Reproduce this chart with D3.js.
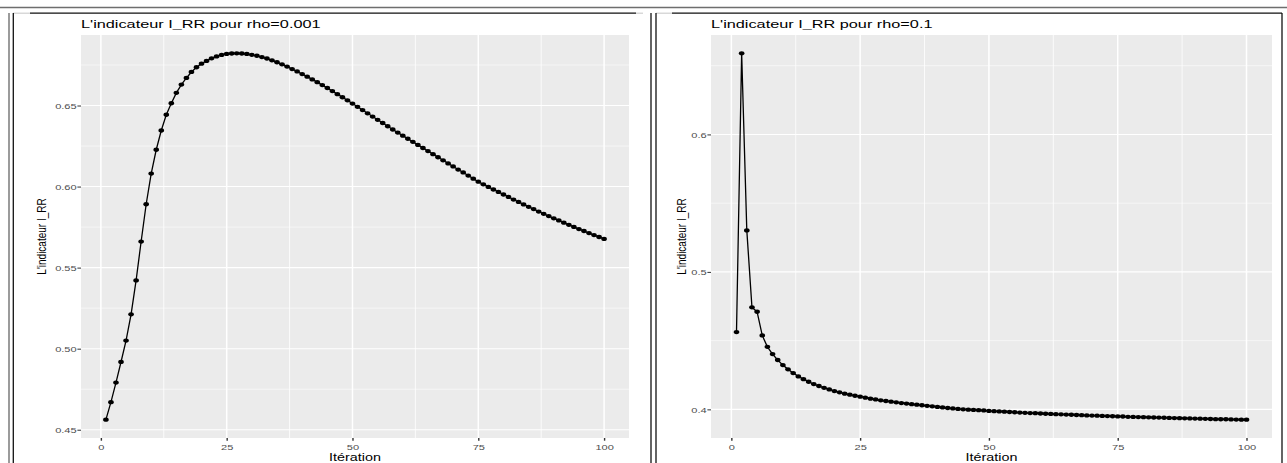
<!DOCTYPE html>
<html>
<head>
<meta charset="utf-8">
<script src="https://cdn.jsdelivr.net/npm/d3@7"></script>
<style>
  body { margin: 0; background: #fff; }
  svg { display: block; font-family: "Liberation Sans", Arial, Helvetica, sans-serif; }
</style>
</head>
<body>
<svg id="chart" width="1287" height="463"></svg>
<script>
// ---- data -------------------------------------------------------------
// I_RR indicator per iteration, rho = 0.001
const irrRho0001 = [
  0.4562, 0.4670, 0.4791, 0.4918, 0.5050, 0.5212, 0.5421, 0.5661, 0.5891, 0.6080,
  0.6227, 0.6346, 0.6443, 0.6514, 0.6578, 0.6629, 0.6670, 0.6707, 0.6736, 0.6758,
  0.6775, 0.6791, 0.6803, 0.6812, 0.6818, 0.6821, 0.6822, 0.6821, 0.6818, 0.6813,
  0.6807, 0.6799, 0.6790, 0.6779, 0.6767, 0.6754, 0.6740, 0.6725, 0.6710, 0.6694,
  0.6678, 0.6661, 0.6644, 0.6626, 0.6608, 0.6589, 0.6570, 0.6551, 0.6532, 0.6512,
  0.6492, 0.6472, 0.6452, 0.6432, 0.6412, 0.6392, 0.6372, 0.6352, 0.6333, 0.6314,
  0.6295, 0.6276, 0.6257, 0.6238, 0.6219, 0.6200, 0.6181, 0.6162, 0.6143, 0.6124,
  0.6105, 0.6087, 0.6068, 0.6049, 0.6030, 0.6014, 0.5998, 0.5982, 0.5967, 0.5951,
  0.5936, 0.5920, 0.5905, 0.5890, 0.5875, 0.5861, 0.5846, 0.5832, 0.5818, 0.5804,
  0.5791, 0.5777, 0.5764, 0.5751, 0.5738, 0.5726, 0.5713, 0.5701, 0.5689, 0.5677
];

// I_RR indicator per iteration, rho = 0.1
const irrRho01 = [
  0.4562, 0.6590, 0.5302, 0.4742, 0.4710, 0.4538, 0.4455, 0.4402, 0.4359, 0.4322,
  0.4291, 0.4264, 0.4240, 0.4220, 0.4201, 0.4184, 0.4170, 0.4157, 0.4145, 0.4133,
  0.4124, 0.4114, 0.4107, 0.4099, 0.4092, 0.4085, 0.4078, 0.4072, 0.4066, 0.4061,
  0.4056, 0.4051, 0.4046, 0.4042, 0.4038, 0.4034, 0.4030, 0.4026, 0.4022, 0.4018,
  0.4014, 0.4010, 0.4007, 0.4003, 0.4000, 0.3998, 0.3996, 0.3994, 0.3992, 0.3989,
  0.3987, 0.3985, 0.3983, 0.3981, 0.3979, 0.3977, 0.3975, 0.3973, 0.3972, 0.3970,
  0.3968, 0.3967, 0.3965, 0.3964, 0.3962, 0.3961, 0.3959, 0.3958, 0.3956, 0.3955,
  0.3954, 0.3952, 0.3951, 0.3950, 0.3949, 0.3948, 0.3946, 0.3945, 0.3944, 0.3943,
  0.3942, 0.3941, 0.3940, 0.3939, 0.3938, 0.3937, 0.3936, 0.3935, 0.3934, 0.3933,
  0.3932, 0.3931, 0.3930, 0.3929, 0.3928, 0.3928, 0.3927, 0.3926, 0.3925, 0.3925
];

const xTicks = [0, 25, 50, 75, 100];
const yTicksRho0001 = [0.45, 0.50, 0.55, 0.60, 0.65];
const yTicksRho01 = [0.4, 0.5, 0.6];
const titles = ["L'indicateur I_RR pour rho=0.001", "L'indicateur I_RR pour rho=0.1"];
const xTitle = "Itération";
const yTitle = "L'indicateur I_RR";

// ---- drawing ----------------------------------------------------------
const svg = d3.select("#chart");
const SX = 1.38;            // horizontal stretch of the printed text
const PANEL_BG = "#EBEBEB";

// frame lines around the two figures
const frame = svg.append("g").attr("fill", "none");
frame.append("line").attr("x1", 0).attr("x2", 1287).attr("y1", 7.5).attr("y2", 7.5)
  .attr("stroke", "#6e6e6e").attr("stroke-width", 1.6);
frame.append("line").attr("x1", 9).attr("x2", 9).attr("y1", 13).attr("y2", 463)
  .attr("stroke", "#7a7a7a").attr("stroke-width", 1.5);
[[13, 30, "#cfcfcf"], [30, 636, "#111"], [636, 643, "#cfcfcf"], [656, 672, "#cfcfcf"], [672, 1282, "#111"]]
  .forEach(([a, b, c]) => frame.append("line").attr("x1", a).attr("x2", b)
    .attr("y1", 13.2).attr("y2", 13.2).attr("stroke", c).attr("stroke-width", 1.2));
[13.3, 651, 656, 1282].forEach(xv => frame.append("line")
  .attr("x1", xv).attr("x2", xv).attr("y1", 13).attr("y2", 463)
  .attr("stroke", "#111").attr("stroke-width", 1.3));

function stretchText(sel, sx) {
  sel.each(function () {
    const t = d3.select(this);
    const xv = +t.attr("x") || 0;
    t.attr("x", 0).attr("transform", `translate(${xv},0) scale(${sx},1)`);
  });
}

function midpoints(arr) {
  const out = [];
  for (let i = 0; i < arr.length - 1; i++) out.push((arr[i] + arr[i + 1]) / 2);
  if (arr.length > 1) {
    const step = arr[1] - arr[0];
    out.unshift(arr[0] - step / 2);
    out.push(arr[arr.length - 1] + step / 2);
  }
  return out;
}

function drawPanel(opt) {
  const { values, yTicks, yFormat, title, left, right, top, bottom, yTitleX } = opt;
  const iters = values.map((_, i) => i + 1);

  // ggplot-style 5% expansion of the data range
  const xExt = d3.extent(iters), yExt = d3.extent(values);
  const xPad = (xExt[1] - xExt[0]) * 0.05, yPad = (yExt[1] - yExt[0]) * 0.05;
  const x = d3.scaleLinear().domain([xExt[0] - xPad, xExt[1] + xPad]).range([left, right]);
  const y = d3.scaleLinear().domain([yExt[0] - yPad, yExt[1] + yPad]).range([bottom, top]);

  const g = svg.append("g");

  g.append("rect").attr("x", left).attr("y", top)
    .attr("width", right - left).attr("height", bottom - top).attr("fill", PANEL_BG);

  const inX = v => v >= x.domain()[0] && v <= x.domain()[1];
  const inY = v => v >= y.domain()[0] && v <= y.domain()[1];

  // minor grid
  g.selectAll(".vminor").data(midpoints(xTicks).filter(inX)).join("line")
    .attr("x1", d => x(d)).attr("x2", d => x(d)).attr("y1", top).attr("y2", bottom)
    .attr("stroke", "#fff").attr("stroke-width", 0.8);
  g.selectAll(".hminor").data(midpoints(yTicks).filter(inY)).join("line")
    .attr("x1", left).attr("x2", right).attr("y1", d => y(d)).attr("y2", d => y(d))
    .attr("stroke", "#fff").attr("stroke-width", 0.55);
  // major grid
  g.selectAll(".vmajor").data(xTicks.filter(inX)).join("line")
    .attr("x1", d => x(d)).attr("x2", d => x(d)).attr("y1", top).attr("y2", bottom)
    .attr("stroke", "#fff").attr("stroke-width", 1.5);
  g.selectAll(".hmajor").data(yTicks.filter(inY)).join("line")
    .attr("x1", left).attr("x2", right).attr("y1", d => y(d)).attr("y2", d => y(d))
    .attr("stroke", "#fff").attr("stroke-width", 1.1);

  // series line and points
  const pts = iters.map((it, i) => [it, values[i]]);
  g.append("path").datum(pts)
    .attr("fill", "none").attr("stroke", "#000").attr("stroke-width", 1.3)
    .attr("d", d3.line().x(d => x(d[0])).y(d => y(d[1])));
  g.selectAll(".pt").data(pts).join("ellipse")
    .attr("cx", d => x(d[0])).attr("cy", d => y(d[1]))
    .attr("rx", 2.8).attr("ry", 2.15).attr("fill", "#000");

  // axes
  const xAxis = g.append("g").attr("transform", `translate(0,${bottom})`)
    .call(d3.axisBottom(x).tickValues(xTicks).tickSize(2.7).tickFormat(d3.format("d")));
  const yAxis = g.append("g").attr("transform", `translate(${left},0)`)
    .call(d3.axisLeft(y).tickValues(yTicks).tickSize(3.6).tickFormat(d3.format(yFormat)));
  [xAxis, yAxis].forEach(a => {
    a.select(".domain").remove();
    a.selectAll(".tick line").attr("stroke", "#333");
    a.selectAll(".tick text").attr("fill", "#4D4D4D")
      .attr("font-family", "Liberation Sans, Arial, sans-serif").attr("font-size", 8);
  });
  xAxis.selectAll(".tick line").attr("stroke-width", 1.4);
  yAxis.selectAll(".tick line").attr("stroke-width", 1.0);
  xAxis.selectAll(".tick text").attr("y", 11.6).attr("dy", null);
  yAxis.selectAll(".tick text").attr("x", -4.4).attr("dy", "0.34em");
  stretchText(xAxis.selectAll(".tick text"), SX);
  stretchText(yAxis.selectAll(".tick text"), SX);

  // panel title
  g.append("text").attr("transform", `translate(${left},27.6) scale(${SX},1)`)
    .attr("font-size", 11.8).attr("fill", "#000").text(title);

  // axis titles
  g.append("text")
    .attr("transform", `translate(${(left + right) / 2},461) scale(${SX},1)`)
    .attr("text-anchor", "middle").attr("font-size", 10.4).attr("fill", "#000").text(xTitle);
  g.append("text")
    .attr("transform", `translate(${yTitleX},${(top + bottom) / 2}) rotate(-90) scale(1,1.2)`)
    .attr("text-anchor", "middle").attr("font-size", 10).attr("fill", "#000").text(yTitle);
}

drawPanel({
  values: irrRho0001, yTicks: yTicksRho0001, yFormat: ".2f", title: titles[0],
  left: 81, right: 629, top: 35, bottom: 438, yTitleX: 46.4
});
drawPanel({
  values: irrRho01, yTicks: yTicksRho01, yFormat: ".1f", title: titles[1],
  left: 711, right: 1272, top: 35, bottom: 438, yTitleX: 686
});
</script>
</body>
</html>
